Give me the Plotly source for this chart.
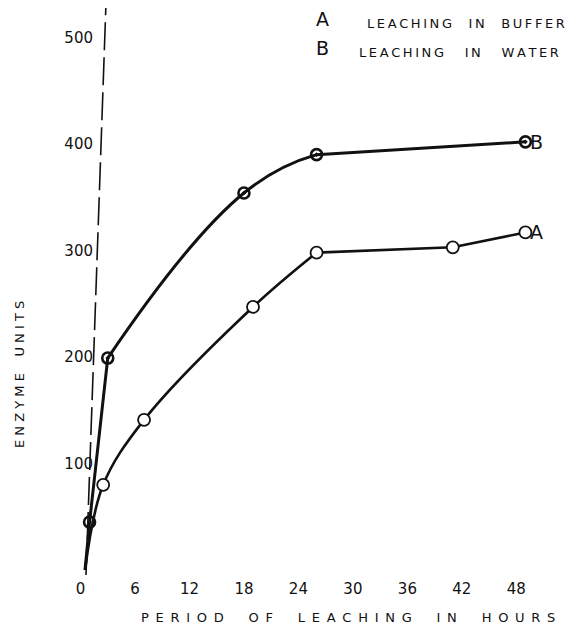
import plotly.graph_objects as go

# ---- data ----
hours_b = [0.5, 1, 3, 18, 26, 49]
units_b = [0, 45, 199, 354, 390, 402]

hours_a = [0.5, 2.5, 7, 19, 26, 41, 49]
units_a = [0, 80, 141, 247, 298, 303, 317]

x_ticks = [0, 6, 12, 18, 24, 30, 36, 42, 48]
y_ticks = [0, 100, 200, 300, 400, 500]
y_tick_labels = ["", "100", "200", "300", "400", "500"]

INK = "#111111"
FONT = "DejaVu Sans"
THIN = "\u2009"

# page has an 8px body margin; figure is sized so it fits the 573x632 window
W, H = 565, 624
L_S, R_S, T_S, B_S = 48, 565, 10, 578   # plot area in window pixels


def px(xs):
    return (xs - L_S) / (R_S - L_S)


def py(ys):
    return (B_S - ys) / (B_S - T_S)


def spaced(words, gap, wgap):
    return wgap.join(gap.join(list(w)) for w in words.split(" "))


fig = go.Figure()

# curve B: straight rise, smooth bend, straight tail
fig.add_trace(go.Scatter(x=hours_b[0:3], y=units_b[0:3], mode="lines",
                         line=dict(color=INK, width=3), hoverinfo="skip"))
fig.add_trace(go.Scatter(x=hours_b[2:5], y=units_b[2:5], mode="lines",
                         line=dict(color=INK, width=3, shape="spline", smoothing=1.3),
                         hoverinfo="skip"))
fig.add_trace(go.Scatter(x=hours_b[4:], y=units_b[4:], mode="lines",
                         line=dict(color=INK, width=3), hoverinfo="skip"))
fig.add_trace(go.Scatter(x=hours_b[1:], y=units_b[1:], mode="markers",
                         marker=dict(symbol="circle-open-dot", size=11, color=INK,
                                     line=dict(width=2.6, color=INK))))

# curve A
fig.add_trace(go.Scatter(x=hours_a[0:5], y=units_a[0:5], mode="lines",
                         line=dict(color=INK, width=2.6, shape="spline", smoothing=1.0),
                         hoverinfo="skip"))
fig.add_trace(go.Scatter(x=hours_a[4:], y=units_a[4:], mode="lines",
                         line=dict(color=INK, width=2.6), hoverinfo="skip"))
fig.add_trace(go.Scatter(x=hours_a[1:], y=units_a[1:], mode="markers",
                         marker=dict(symbol="circle", size=12, color="white",
                                     line=dict(width=1.8, color=INK))))

# end labels
fig.add_annotation(x=hours_b[-1], y=units_b[-1], text="B", showarrow=False,
                   xanchor="left", yanchor="middle", xshift=3,
                   font=dict(family=FONT, size=19, color=INK))
fig.add_annotation(x=hours_a[-1], y=units_a[-1], text="A", showarrow=False,
                   xanchor="left", yanchor="middle", xshift=3,
                   font=dict(family=FONT, size=19, color=INK))

# key at top right
fig.add_annotation(xref="paper", yref="paper", x=px(322), y=py(19), text="A",
                   xanchor="center", yanchor="middle", showarrow=False,
                   font=dict(family=FONT, size=19, color=INK))
fig.add_annotation(xref="paper", yref="paper", x=px(365), y=py(24),
                   xanchor="left", yanchor="middle",
                   text=spaced("LEACHING IN BUFFER", THIN, "    "), showarrow=False,
                   font=dict(family=FONT, size=13, color=INK))
fig.add_annotation(xref="paper", yref="paper", x=px(322), y=py(48), text="B",
                   xanchor="center", yanchor="middle", showarrow=False,
                   font=dict(family=FONT, size=19, color=INK))
fig.add_annotation(xref="paper", yref="paper", x=px(357), y=py(53),
                   xanchor="left", yanchor="middle",
                   text=spaced("LEACHING IN WATER", THIN, "     "), showarrow=False,
                   font=dict(family=FONT, size=13, color=INK))

# axis titles
fig.add_annotation(xref="paper", yref="paper", x=px(348), y=py(617),
                   xanchor="center", yanchor="middle",
                   text=spaced("PERIOD OF LEACHING IN HOURS", " " + THIN, "      "),
                   showarrow=False, font=dict(family=FONT, size=13, color=INK))
fig.add_annotation(xref="paper", yref="paper", x=px(19), y=py(375), textangle=-90,
                   xanchor="center", yanchor="middle",
                   text=spaced("ENZYME UNITS", " ", "    "),
                   showarrow=False, font=dict(family=FONT, size=13, color=INK))

# hand-drawn dashed vertical axis
fig.add_shape(type="line", xref="paper", yref="paper",
              x0=px(86), y0=py(575), x1=px(106), y1=py(3),
              line=dict(color=INK, width=1.6, dash="28px,7px"))

fig.update_layout(
    width=W, height=H,
    margin=dict(l=L_S - 8, r=8 + W - R_S, t=T_S - 8, b=8 + H - B_S, autoexpand=False),
    paper_bgcolor="white", plot_bgcolor="white",
    showlegend=False,
    xaxis=dict(range=[(L_S - 80.5) / 9.08, (L_S - 80.5) / 9.08 + (R_S - L_S) / 9.08],
               tickvals=x_ticks, ticktext=[str(v) for v in x_ticks],
               showgrid=False, zeroline=False, showline=False, ticks="",
               automargin=False,
               tickfont=dict(family=FONT, size=15, color=INK)),
    yaxis=dict(range=[-(B_S - 570) / 1.065, -(B_S - 570) / 1.065 + (B_S - T_S) / 1.065],
               tickvals=y_ticks, ticktext=y_tick_labels,
               anchor="free", position=px(93), automargin=False,
               showgrid=False, zeroline=False, showline=False, ticks="",
               tickfont=dict(family=FONT, size=15, color=INK)),
)

fig.write_html("out.html")
